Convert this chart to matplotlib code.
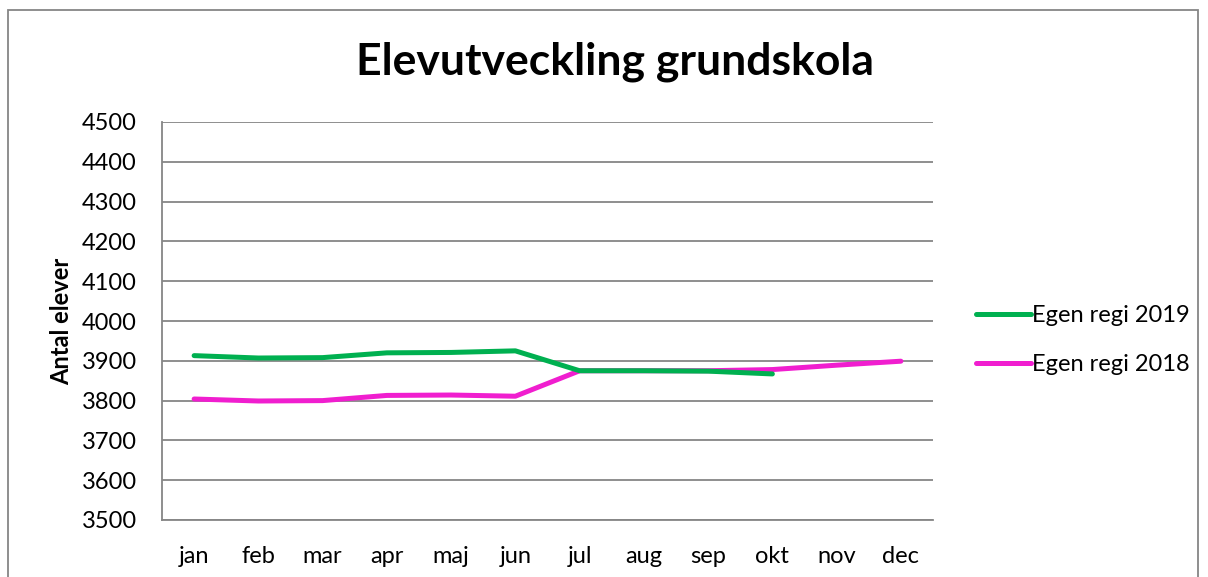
import matplotlib
matplotlib.use("Agg")
import matplotlib.pyplot as plt
from matplotlib.patches import Rectangle

months = ["jan", "feb", "mar", "apr", "maj", "jun", "jul", "aug", "sep", "okt", "nov", "dec"]
egen_2019 = [3913, 3907, 3908, 3920, 3921, 3925, 3875, 3875, 3874, 3867]
egen_2018 = [3804, 3799, 3800, 3813, 3814, 3811, 3875, 3875, 3875, 3878, 3889, 3899]
yticks = list(range(3500, 4501, 100))

plt.rcParams['font.family'] = ['Lato', 'DejaVu Sans']

fig = plt.figure(figsize=(12.08, 5.77), dpi=100)
ax = fig.add_axes([162/1208, 1-520/577, (933-162)/1208, (520-122)/577])

x19 = list(range(len(egen_2019)))
x18 = list(range(len(egen_2018)))
ax.plot(x18, egen_2018, color="#F01ECF", lw=3.6, solid_capstyle="round", label="Egen regi 2018", zorder=3)
ax.plot(x19, egen_2019, color="#00B050", lw=3.6, solid_capstyle="round", label="Egen regi 2019", zorder=4)

ax.set_xlim(-0.5, len(months) - 0.5)
ax.set_ylim(3500, 4500)
ax.set_yticks(yticks)
ax.set_xticks(range(len(months)))
ax.set_xticklabels(months)
ax.tick_params(axis="both", length=0, labelsize=17, colors="black")
ax.tick_params(axis="y", pad=18)
ax.tick_params(axis="x", pad=19)
ax.grid(axis="y", color="#868686", lw=1.3)
ax.set_axisbelow(True)
for s in ["top", "right"]:
    ax.spines[s].set_visible(False)
ax.spines["left"].set_color("#868686")
ax.spines["left"].set_linewidth(1.3)
ax.spines["bottom"].set_color("#868686")
ax.spines["bottom"].set_linewidth(1.3)
ax.set_ylabel("Antal elever", fontsize=17, fontweight="bold", labelpad=6)

fig.text(615/1208, 1-62/577, "Elevutveckling grundskola", ha="center", va="center",
         fontsize=32, fontweight="bold")

handles, labels = ax.get_legend_handles_labels()
leg = fig.legend(handles[::-1], labels[::-1], loc="center left", bbox_to_anchor=(955/1208, 1-340/577),
                 frameon=False, fontsize=17, handlelength=2.3, handletextpad=0.05,
                 labelspacing=1.2)

fig.patches.append(Rectangle((8/1208, -0.05), (1198-8)/1208, 1.05-10/577,
                             transform=fig.transFigure, fill=False, edgecolor="#868686", lw=1.3))

fig.savefig("out.png", dpi=100)
